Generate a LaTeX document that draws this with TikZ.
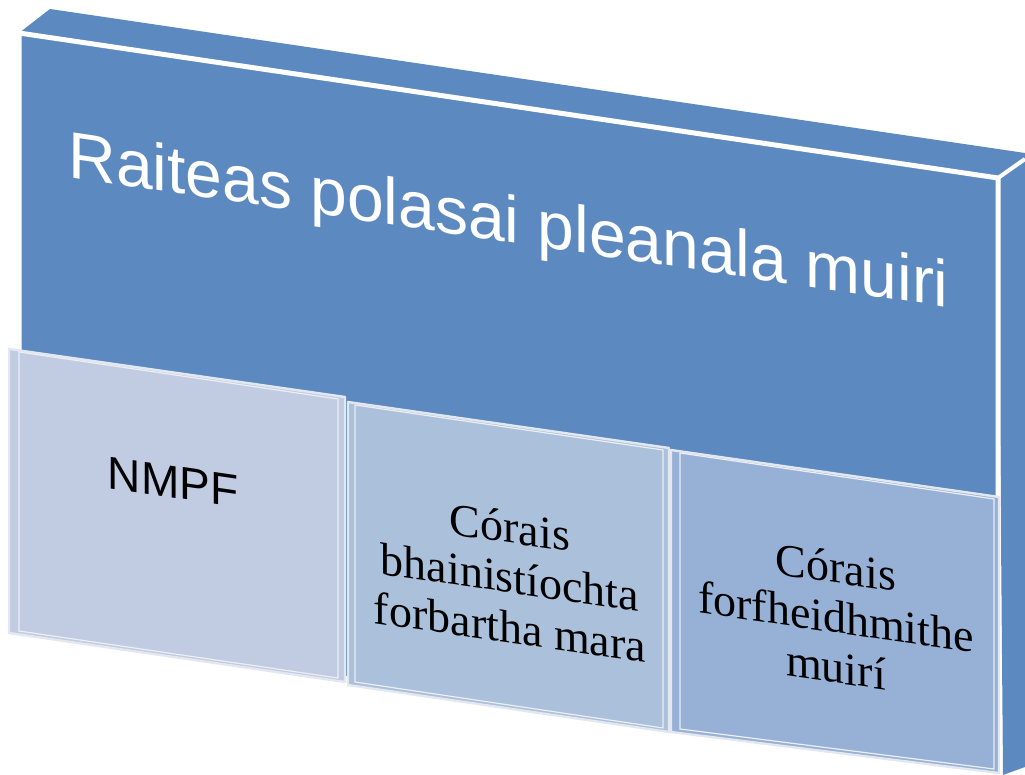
\documentclass[tikz,border=0pt]{standalone}
\usepackage{fontspec}
\setmainfont{Liberation Serif}
\newfontfamily\arialfont{Liberation Sans}
\definecolor{slabblue}{HTML}{5C8AC0}
\definecolor{paneA}{HTML}{C1CCE3}
\definecolor{paneB}{HTML}{ABC0DA}
\definecolor{paneC}{HTML}{97B1D6}
\definecolor{rimgrey}{HTML}{E2E7F0}

\begin{document}
\begin{tikzpicture}[x = 0.5pt, y = -0.5pt]

\tikzset{
slab/.style = {fill = slabblue, draw = white, line width = 2.5pt, line join = round},
pane/.style = {draw = rimgrey, line width = 1.2pt, line join = round},
rim/.style = {draw = rimgrey!70!white, line width = 0.6pt},
title/.style = {text = white, font = \arialfont\fontsize{33}{40}\selectfont, 
	yslant = -0.148, transform shape, inner sep = 0pt, anchor = base west},
label/.style = {text = black, font = \fontsize{23}{25}\selectfont, align = center,
	yslant = -0.145, transform shape, inner sep = 0pt},
}

\useasboundingbox (0,0) rectangle (1025,775);

%% Slab
% Top and side faces
\fill [slabblue] (19,33) -- (50,9) -- (1025,153) -- (1025,767) -- (1003,775) -- (998,178) -- cycle;
\draw [white, line width = 2pt] (998,178) -- (1025,159);
% Front face
\path [slab] (19,33) -- (998,178) -- (998,775) -- (19,630) -- cycle;

%% Panes
% NMPF
\path [pane, fill = paneA] (9,349) -- (345,397) -- (345,682) -- (9,633) -- cycle;
\draw [rim] (19,352) -- (338,399) -- (338,678) -- (19,631) -- cycle;
% Development management
\path [pane, fill = paneB] (348,402) -- (669,448) -- (669,732) -- (348,685) -- cycle;
\draw [rim] (355,405) -- (663,450) -- (663,728) -- (355,682) -- cycle;
% Enforcement
\path [pane, fill = paneC] (671,450) -- (999,497) -- (999,773) -- (671,732) -- cycle;
\draw [rim] (680,453) -- (994,499) -- (994,769) -- (680,729) -- cycle;

%% Labels
\node [title] (policy) at (68,177) {Raiteas polasai pleanala muiri};
\node [label, font = \arialfont\fontsize{23}{25}\selectfont, anchor = base] (nmpf) 
	at (173,498) {NMPF};
\node [label] (devman) at (510,577) {Córais\\bhainistíochta\\forbartha mara};
\node [label] (enforce) at (836,617) {Córais\\forfheidhmithe\\muirí};

\end{tikzpicture}
\end{document}
